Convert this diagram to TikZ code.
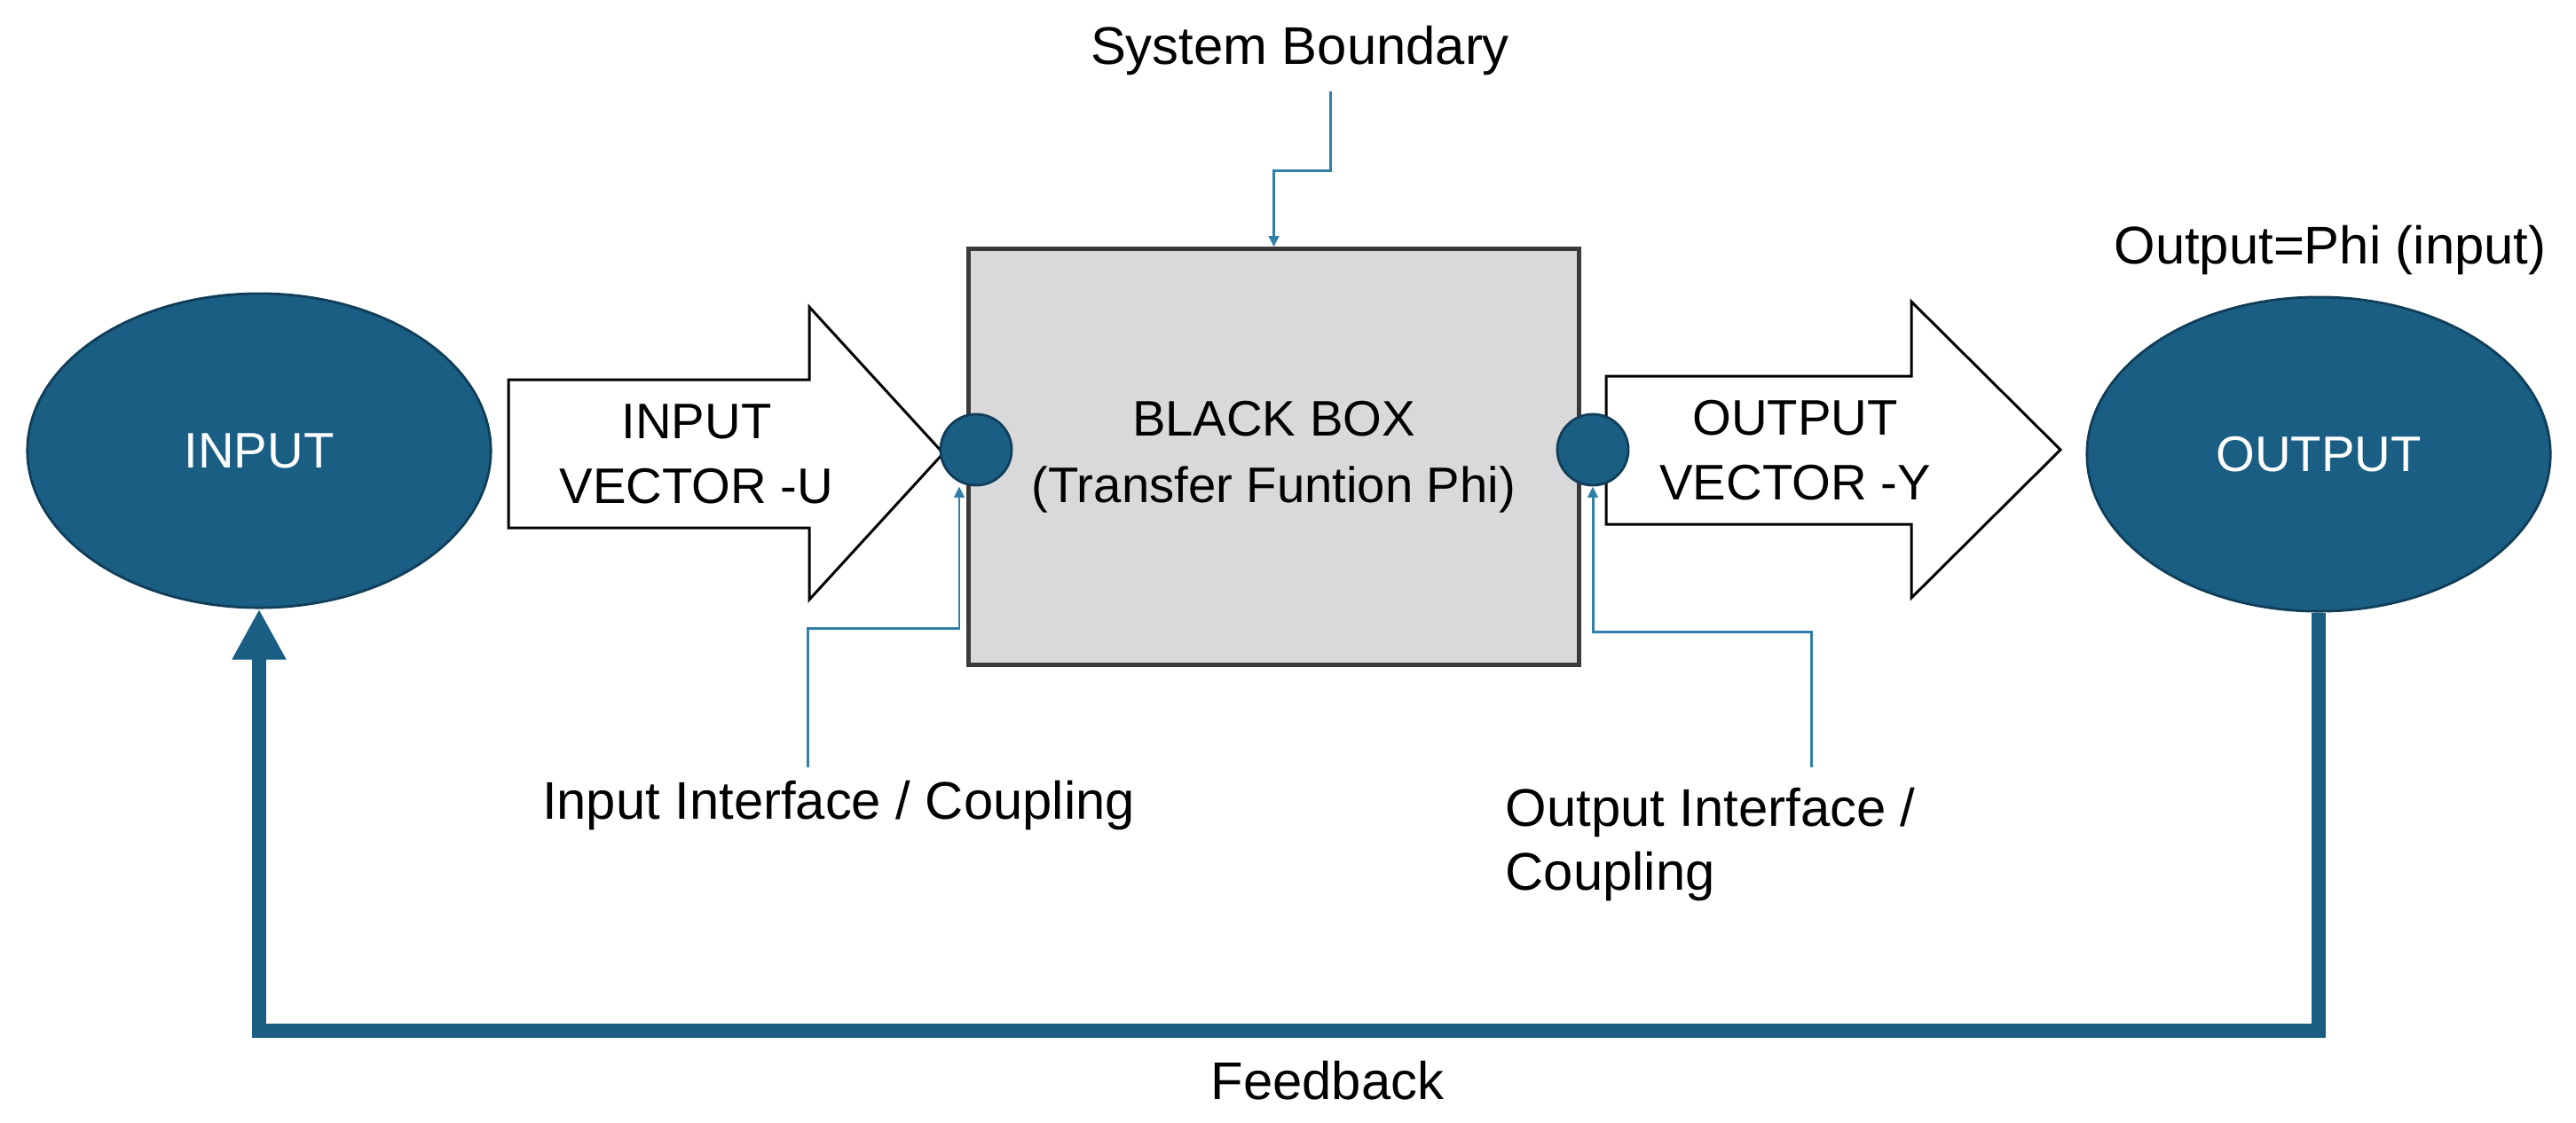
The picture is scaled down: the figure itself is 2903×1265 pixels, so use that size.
\documentclass[tikz,border=0pt]{standalone}
\usepackage{fontspec}
\setmainfont{Liberation Sans}
\definecolor{sysblue}{RGB}{26, 94, 132}
\definecolor{sysdark}{RGB}{16, 62, 88}
\definecolor{leadblue}{RGB}{48, 128, 168}
\definecolor{boxgray}{RGB}{217, 217, 219}
\definecolor{boxedge}{RGB}{58, 58, 58}
\usepackage{tikz}
\usetikzlibrary{arrows.meta, shapes.geometric, positioning, calc}

\begin{document}
\begin{tikzpicture}[x=0.01cm, y=-0.01cm,
		blob/.style={ellipse, draw=sysdark, line width=0.8pt, fill=sysblue, text=white,
			minimum width=5.22cm, minimum height=3.54cm, inner sep=0pt, font=\fontsize{16}{19}\selectfont},
		port/.style={circle, draw=sysdark, line width=0.8pt, fill=sysblue, minimum size=0.8cm, inner sep=0pt},
		blackbox/.style={rectangle, draw=boxedge, line width=1.4pt, fill=boxgray, minimum width=6.87cm,
			minimum height=4.68cm, align=center, font=\fontsize{16}{21.3}\selectfont},
		bigarrow/.style={draw=black, line width=0.85pt, fill=white, line join=miter},
		lbl/.style={inner sep=0pt, font=\fontsize{17}{20.2}\selectfont},
		caps/.style={inner sep=0pt, align=center, font=\fontsize{16}{20.8}\selectfont},
		leader/.style={draw=leadblue, line width=0.85pt, -{Triangle[length=3.5pt, width=3.2pt]}},
		feedback/.style={draw=sysblue, line width=4.55pt, -{Triangle[length=0.57cm, width=0.57cm]}}]
			\useasboundingbox (0,0) rectangle (2903,1265);
			\draw[bigarrow] (573,428) -- (912,428) -- (912,346) -- (1063,511) -- (912,676) -- (912,595) -- (573,595) -- cycle;
			\draw[bigarrow] (1810,424) -- (2154,424) -- (2154,340) -- (2322,507) -- (2154,674) -- (2154,591) -- (1810,591) -- cycle;
			\node[caps] (ulab) at (785,512) {INPUT\\VECTOR -U};
			\node[caps] (ylab) at (2023,508) {OUTPUT\\VECTOR -Y};
			\node[blob] (in) at (292,508) {INPUT};
			\node[blob] (out) at (2613,512) {OUTPUT};
			\node[blackbox] (bbox) at (1435.5,515) {BLACK BOX\\(Transfer Funtion Phi)};
			\node[port] (inport) at (1100,507) {};
			\node[port] (outport) at (1795,507) {};
			\node[lbl] (sblabel) at (1465,57) {System Boundary};
			\node[lbl] (philabel) at (2626,282) {Output=Phi (input)};
			\node[lbl] (inifc) at (945,908) {Input Interface / Coupling};
			\node[lbl, align=left, anchor=west] (outifc) at (1696,952) {Output Interface /\\Coupling};
			\node[lbl] (fblabel) at (1496,1218) {Feedback};
			\coordinate (sbtail) at (1499,103);
			\coordinate (inlead) at (910,865);
			\coordinate (outlead) at (2041,865);
			\draw[leader] (sbtail) -- ++(0,89) -| (bbox.north);
			\draw[leader] (inlead) -- ++(0,-157) -| ([xshift=-0.19cm]inport.south);
			\draw[leader] (outlead) -- ++(0,-153) -| (outport.south);
			\draw[feedback] (out.south) -- ++(0,471) -| (in.south);
		\end{tikzpicture}
\end{document}
